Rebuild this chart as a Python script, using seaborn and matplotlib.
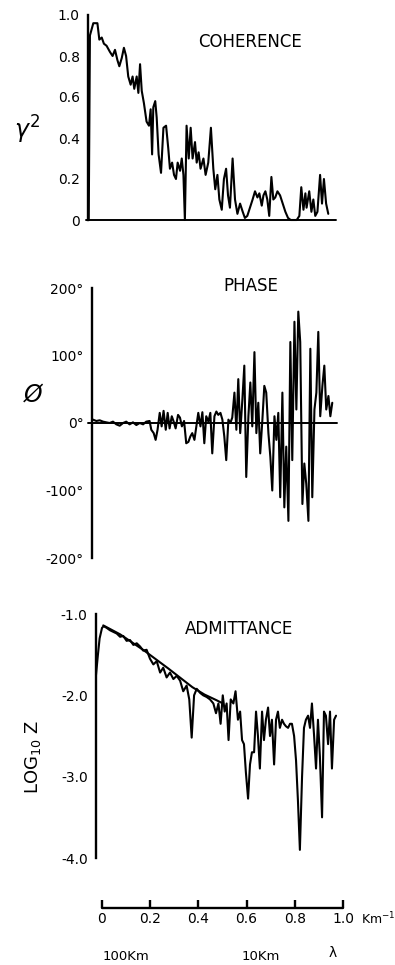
import numpy as np
import pandas as pd
import matplotlib
matplotlib.use("Agg")
import matplotlib.pyplot as plt
import seaborn as sns

# ---------------- data ----------------
coh_k = [0.003, 0.008, 0.022, 0.039, 0.047, 0.057, 0.066, 0.077, 0.091, 0.102, 0.112, 0.122,
         0.130, 0.140, 0.149, 0.158, 0.167, 0.177, 0.185, 0.192, 0.202, 0.209, 0.216, 0.223,
         0.232, 0.243, 0.253, 0.260, 0.266, 0.271, 0.279, 0.285, 0.293, 0.303, 0.313, 0.324,
         0.333, 0.340, 0.349, 0.357, 0.365, 0.372, 0.382, 0.389, 0.396, 0.402, 0.409, 0.418,
         0.426, 0.434, 0.444, 0.451, 0.459, 0.467, 0.479, 0.488, 0.499, 0.510, 0.520, 0.528,
         0.537, 0.545, 0.555, 0.564, 0.573, 0.581, 0.589, 0.600, 0.610, 0.620, 0.631, 0.642,
         0.651, 0.661, 0.672, 0.683, 0.693, 0.703, 0.711, 0.721, 0.728, 0.736, 0.744, 0.752,
         0.761, 0.769, 0.777, 0.786, 0.797, 0.808, 0.819, 0.830, 0.841, 0.852, 0.866, 0.877,
         0.885, 0.894, 0.902, 0.907, 0.918, 0.927, 0.935, 0.943, 0.952, 0.963, 0.971, 0.979,
         0.988, 0.997]
coh_val = [0.00, 0.90, 0.96, 0.96, 0.88, 0.89, 0.86, 0.85, 0.82, 0.80, 0.83, 0.78,
           0.75, 0.79, 0.84, 0.80, 0.70, 0.66, 0.70, 0.64, 0.70, 0.62, 0.76, 0.63,
           0.57, 0.48, 0.46, 0.54, 0.32, 0.55, 0.58, 0.50, 0.32, 0.23, 0.45, 0.46,
           0.35, 0.25, 0.28, 0.22, 0.20, 0.28, 0.24, 0.30, 0.22, 0.00, 0.46, 0.30,
           0.45, 0.30, 0.38, 0.28, 0.33, 0.25, 0.30, 0.22, 0.28, 0.45, 0.25, 0.15,
           0.22, 0.10, 0.05, 0.20, 0.25, 0.12, 0.06, 0.30, 0.10, 0.03, 0.08, 0.04,
           0.01, 0.02, 0.06, 0.10, 0.14, 0.11, 0.13, 0.07, 0.12, 0.14, 0.10, 0.02,
           0.21, 0.10, 0.11, 0.14, 0.12, 0.08, 0.04, 0.01, 0.00, 0.00, 0.00, 0.02,
           0.16, 0.05, 0.13, 0.06, 0.14, 0.04, 0.10, 0.02, 0.04, 0.22, 0.08, 0.20,
           0.08, 0.03]

pha_k = [0.004, 0.018, 0.032, 0.046, 0.059, 0.073, 0.087, 0.101, 0.115, 0.129, 0.142, 0.156,
         0.170, 0.184, 0.198, 0.212, 0.225, 0.239, 0.246, 0.256, 0.264, 0.272, 0.281, 0.289,
         0.297, 0.306, 0.314, 0.322, 0.331, 0.339, 0.347, 0.357, 0.365, 0.373, 0.382, 0.391,
         0.400, 0.408, 0.416, 0.425, 0.433, 0.441, 0.450, 0.458, 0.466, 0.474, 0.483, 0.491,
         0.499, 0.508, 0.516, 0.524, 0.533, 0.541, 0.549, 0.557, 0.566, 0.574, 0.582, 0.591,
         0.599, 0.607, 0.615, 0.624, 0.632, 0.640, 0.649, 0.657, 0.665, 0.674, 0.682, 0.690,
         0.698, 0.707, 0.715, 0.723, 0.732, 0.740, 0.748, 0.757, 0.765, 0.773, 0.781, 0.790,
         0.798, 0.806, 0.815, 0.823, 0.831, 0.840, 0.848, 0.856, 0.864, 0.873, 0.881, 0.889,
         0.898, 0.906, 0.914, 0.923, 0.931, 0.939, 0.947, 0.956, 0.964, 0.972, 0.981, 0.989,
         0.997]
pha_val = [5, 3, 4, 2, 1, 0, 2, -2, -4, 0, 2, -2,
           1, -3, 0, -2, 2, 3, -10, -15, -25, -10, 15, -5,
           18, -10, 15, -8, 10, 2, -8, 12, 8, -5, 3, -30,
           -28, -20, -15, -25, -5, 15, -5, 16, -30, 10, 2, 15,
           -45, 10, 17, 12, 15, 5, -20, -55, 5, 0, 8, 45,
           -10, 65, -15, 35, 85, -80, 10, 60, -5, 105, -15, 30,
           -45, 5, 55, 45, -15, -50, -100, 10, -25, 15, -110, 45,
           -125, -35, -145, 120, -55, 150, 20, 165, 120, -120, -60, -90,
           -145, 110, -110, 20, 45, 135, 10, 55, 85, 20, 40, 10,
           30]

adm_k = [0.000, 0.008, 0.015, 0.025, 0.032, 0.044, 0.058, 0.072, 0.086, 0.100, 0.113, 0.127,
         0.141, 0.155, 0.169, 0.183, 0.196, 0.210, 0.224, 0.238, 0.252, 0.266, 0.279, 0.293,
         0.307, 0.321, 0.335, 0.349, 0.362, 0.376, 0.387, 0.397, 0.407, 0.418, 0.432, 0.445,
         0.459, 0.473, 0.487, 0.498, 0.508, 0.517, 0.526, 0.534, 0.542, 0.550, 0.559, 0.570,
         0.579, 0.589, 0.598, 0.606, 0.614, 0.622, 0.631, 0.639, 0.647, 0.656, 0.664, 0.672,
         0.680, 0.689, 0.697, 0.705, 0.714, 0.722, 0.730, 0.739, 0.747, 0.755, 0.763, 0.772,
         0.780, 0.788, 0.797, 0.805, 0.813, 0.822, 0.830, 0.838, 0.846, 0.855, 0.863, 0.871,
         0.880, 0.888, 0.896, 0.905, 0.913, 0.921, 0.929, 0.938, 0.946, 0.954, 0.963, 0.971,
         0.979, 0.988, 0.996]
adm_val = [-1.75, -1.50, -1.30, -1.17, -1.15, -1.17, -1.20, -1.22, -1.24, -1.28, -1.27, -1.33,
           -1.32, -1.38, -1.36, -1.40, -1.45, -1.44, -1.55, -1.62, -1.58, -1.72, -1.66, -1.78,
           -1.72, -1.80, -1.76, -1.82, -1.95, -1.88, -2.05, -2.52, -2.00, -1.92, -1.97, -2.00,
           -2.02, -2.05, -2.10, -2.22, -2.10, -2.35, -2.00, -2.20, -2.10, -2.55, -2.05, -2.10,
           -1.95, -2.30, -2.20, -2.55, -2.60, -2.95, -3.27, -2.85, -2.70, -2.70, -2.20, -2.50,
           -2.90, -2.20, -2.55, -2.30, -2.15, -2.50, -2.30, -2.85, -2.30, -2.20, -2.40, -2.30,
           -2.35, -2.38, -2.40, -2.35, -2.35, -2.50, -2.80, -3.30, -3.90, -3.00, -2.40, -2.30,
           -2.25, -2.40, -2.10, -2.50, -2.90, -2.30, -2.75, -3.50, -2.20, -2.25, -2.60, -2.20,
           -2.90, -2.30, -2.25]

model_k = [0.03, 0.10, 0.20, 0.30, 0.40, 0.45, 0.50, 0.52]
model_val = [-1.14, -1.25, -1.45, -1.67, -1.90, -1.99, -2.06, -2.09]

coh_ticks = [0, 0.2, 0.4, 0.6, 0.8, 1.0]
coh_ticklabels = ["0", "0.2", "0.4", "0.6", "0.8", "1.0"]
pha_ticks = [-200, -100, 0, 100, 200]
pha_ticklabels = ["-200°", "-100°", "0°", "100°", "200°"]
adm_ticks = [-4, -3, -2, -1]
adm_ticklabels = ["-4.0", "-3.0", "-2.0", "-1.0"]
k_ticks = [0, 0.2, 0.4, 0.6, 0.8, 1.0]
k_ticklabels = ["0", "0.2", "0.4", "0.6", "0.8", "1.0"]

# ---------------- figure ----------------
sns.set_theme(style="white")
plt.rcParams["font.family"] = ["DejaVu Sans"]
plt.rcParams["text.color"] = "black"
plt.rcParams["xtick.color"] = "black"
plt.rcParams["ytick.color"] = "black"
plt.rcParams["xtick.labelcolor"] = "black"
plt.rcParams["ytick.labelcolor"] = "black"

W, H = 395, 965
fig = plt.figure(figsize=(W / 100, H / 100), dpi=100)
fig.patch.set_facecolor("white")

SCALE = 241.0  # pixels per unit wavenumber


def make_axes(left_px, top_px, bottom_px, right_px):
    return fig.add_axes([left_px / W, 1 - bottom_px / H,
                         (right_px - left_px) / W, (bottom_px - top_px) / H])


def style_left(ax, ticks, labels):
    for s in ["top", "right", "bottom"]:
        ax.spines[s].set_visible(False)
    ax.spines["left"].set_linewidth(1.7)
    ax.spines["left"].set_color("black")
    ax.set_yticks(ticks)
    ax.set_yticklabels(labels, fontsize=10, color="black")
    ax.set_xticks([])
    ax.tick_params(axis="y", direction="out", length=5, width=1.7, colors="black", pad=1)
    ax.set_xlabel("")
    ax.set_ylabel("")
    ax.patch.set_alpha(0)


LW = 1.5

# Coherence
ax1 = make_axes(88, 15, 220, 345)
ax1.set_xlim(0, 257 / SCALE)
ax1.set_ylim(0, 1.0)
ax1.plot([-0.01, 1.03], [0, 0], color="black", lw=1.4, clip_on=False)
sns.lineplot(x=coh_k, y=coh_val, ax=ax1, color="black", lw=LW, estimator=None, sort=False)
for l in ax1.lines:
    l.set_clip_on(False)
style_left(ax1, coh_ticks, coh_ticklabels)
ax1.text(0.63, 0.87, "COHERENCE", transform=ax1.transAxes, ha="center", va="center", fontsize=12)
fig.text(27 / W, 1 - 130 / H, r"$\gamma^2$", ha="center", va="center", fontsize=17)

# Phase
ax2 = make_axes(92, 288, 558, 345)
ax2.set_xlim(0, 253 / SCALE)
ax2.set_ylim(-200, 200)
ax2.plot([-0.017, 1.017], [0, 0], color="black", lw=1.4, clip_on=False)
sns.lineplot(x=pha_k, y=pha_val, ax=ax2, color="black", lw=LW, estimator=None, sort=False)
for l in ax2.lines:
    l.set_clip_on(False)
style_left(ax2, pha_ticks, pha_ticklabels)
fig.text(251 / W, 1 - 286 / H, "PHASE", ha="center", va="center", fontsize=12)
fig.text(33 / W, 1 - 395 / H, "Ø", ha="center", va="center", fontsize=17, style="italic")

# Admittance
ax3 = make_axes(96, 614, 858, 345)
ax3.set_xlim(0, 249 / SCALE)
ax3.set_ylim(-4.0, -1.0)
sns.lineplot(x=model_k, y=model_val, ax=ax3, color="black", lw=LW, estimator=None, sort=False)
sns.lineplot(x=adm_k, y=adm_val, ax=ax3, color="black", lw=LW, estimator=None, sort=False)
for l in ax3.lines:
    l.set_clip_on(False)
style_left(ax3, adm_ticks, adm_ticklabels)
fig.text(239 / W, 1 - 629 / H, "ADMITTANCE", ha="center", va="center", fontsize=12)
fig.text(33 / W, 1 - 757 / H, r"LOG$_{10}$ Z", ha="center", va="center", fontsize=13, rotation=90)

# Wavenumber axis
ax4 = make_axes(102, 880, 908, 345)
ax4.set_xlim(0, 243 / SCALE)
ax4.set_ylim(0, 1)
for s in ["top", "right", "left", "bottom"]:
    ax4.spines[s].set_visible(False)
ax4.plot([0, 1.0], [0, 0], color="black", lw=1.7, clip_on=False)
ax4.set_xticks(k_ticks)
ax4.set_xticklabels(k_ticklabels, fontsize=10, color="black")
ax4.set_yticks([])
ax4.tick_params(axis="x", direction="in", length=6, width=1.7, colors="black", pad=3, bottom=True)
ax4.patch.set_alpha(0)
fig.text(361 / W, 1 - 919 / H, r"Km$^{-1}$", ha="left", va="center", fontsize=9)

fig.text(126 / W, 1 - 957 / H, "100Km", ha="center", va="center", fontsize=9.5)
fig.text(261 / W, 1 - 957 / H, "10Km", ha="center", va="center", fontsize=9.5)
fig.text(333 / W, 1 - 953 / H, "λ", ha="center", va="center", fontsize=10)

fig.savefig("out.png", dpi=100, facecolor="white")
